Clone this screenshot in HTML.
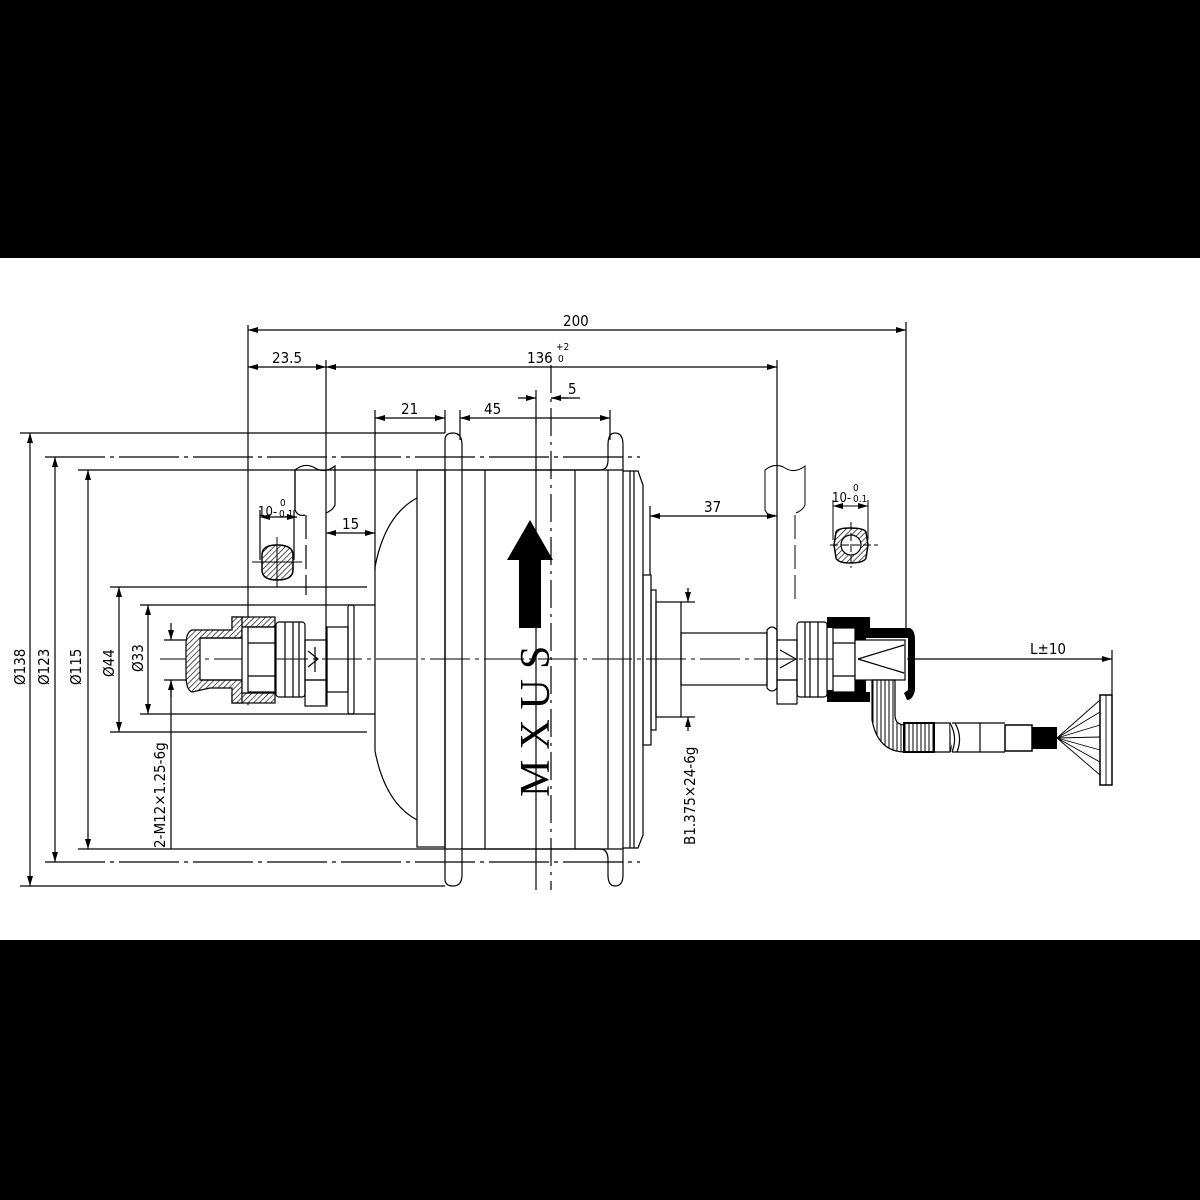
<!DOCTYPE html>
<html><head><meta charset="utf-8"><style>
html,body{margin:0;padding:0;background:#000;}
svg{display:block}
text{font-family:"DejaVu Sans Condensed","Liberation Sans",sans-serif;fill:#000}
</style></head><body>
<svg width="1200" height="1200" viewBox="0 0 1200 1200" xmlns="http://www.w3.org/2000/svg">
<defs>
<pattern id="h" width="4" height="4" patternUnits="userSpaceOnUse" patternTransform="rotate(45)">
<rect width="4" height="4" fill="#fff"/><line x1="0" y1="0" x2="0" y2="4" stroke="#000" stroke-width="1.3"/></pattern>
<pattern id="v" width="4" height="4" patternUnits="userSpaceOnUse">
<rect width="4" height="4" fill="#fff"/><line x1="1" y1="0" x2="1" y2="4" stroke="#000" stroke-width="1"/></pattern>
<marker id="a" viewBox="0 0 10 6" refX="10" refY="3" markerWidth="10" markerHeight="6" orient="auto-start-reverse" markerUnits="userSpaceOnUse"><path d="M0,0 L10,3 L0,6z" fill="#000"/></marker>
</defs>
<rect x="0" y="0" width="1200" height="258" fill="#000"/>
<rect x="0" y="258" width="1200" height="682" fill="#fff"/>
<rect x="0" y="940" width="1200" height="260" fill="#000"/>

<g stroke="#000" stroke-width="1.2" fill="none">
<line x1="248" y1="325" x2="248" y2="705"/>
<line x1="906" y1="322" x2="906" y2="632"/>
<line x1="248" y1="330" x2="906" y2="330" marker-start="url(#a)" marker-end="url(#a)"/>
<line x1="326" y1="360" x2="326" y2="705"/>
<line x1="777" y1="360" x2="777" y2="640"/>
<line x1="248" y1="367" x2="326" y2="367" marker-start="url(#a)" marker-end="url(#a)"/>
<line x1="326" y1="367" x2="777" y2="367" marker-start="url(#a)" marker-end="url(#a)"/>
<line x1="375" y1="410" x2="375" y2="570"/>
<line x1="375" y1="418" x2="445" y2="418" marker-start="url(#a)" marker-end="url(#a)"/>
<line x1="445" y1="410" x2="445" y2="433"/>
<line x1="460" y1="410" x2="460" y2="440"/>
<line x1="610" y1="410" x2="610" y2="440"/>
<line x1="460" y1="418" x2="610" y2="418" marker-start="url(#a)" marker-end="url(#a)"/>
<line x1="518" y1="398" x2="536" y2="398" marker-end="url(#a)"/>
<line x1="568" y1="398" x2="551" y2="398" marker-end="url(#a)"/>
<line x1="551" y1="398" x2="580" y2="398"/>
<line x1="536" y1="390" x2="536" y2="890"/>
<line x1="551" y1="365" x2="551" y2="890" stroke-dasharray="28,6,3,6"/>
<line x1="20" y1="433" x2="445" y2="433"/>
<line x1="45" y1="457" x2="640" y2="457" stroke-dasharray="60,5,4,5"/>
<line x1="78" y1="470" x2="445" y2="470"/>
<line x1="110" y1="587" x2="367" y2="587"/>
<line x1="140" y1="605" x2="375" y2="605"/>
<line x1="110" y1="732" x2="367" y2="732"/>
<line x1="140" y1="714" x2="375" y2="714"/>
<line x1="78" y1="849" x2="445" y2="849"/>
<line x1="45" y1="862" x2="640" y2="862" stroke-dasharray="60,5,4,5"/>
<line x1="20" y1="886" x2="445" y2="886"/>
<line x1="30" y1="433" x2="30" y2="886" marker-start="url(#a)" marker-end="url(#a)"/>
<line x1="55" y1="457" x2="55" y2="862" marker-start="url(#a)" marker-end="url(#a)"/>
<line x1="88" y1="470" x2="88" y2="849" marker-start="url(#a)" marker-end="url(#a)"/>
<line x1="119" y1="587" x2="119" y2="732" marker-start="url(#a)" marker-end="url(#a)"/>
<line x1="148" y1="605" x2="148" y2="714" marker-start="url(#a)" marker-end="url(#a)"/>
<line x1="171" y1="623" x2="171" y2="640" marker-end="url(#a)"/>
<line x1="171" y1="680" x2="171" y2="849"/>
<line x1="171" y1="698" x2="171" y2="680" marker-end="url(#a)"/>
<line x1="164" y1="640" x2="195" y2="640"/>
<line x1="164" y1="680" x2="195" y2="680"/>
<line x1="160" y1="659" x2="930" y2="659" stroke-dasharray="40,5,4,5" stroke-width="1"/>

<rect x="417" y="470" width="28" height="377"/>
<path d="M445,849 V440 Q445,433 453,433 Q462,433 462,445 V470 Q462,470 470,470 L600,470 Q608,470 608,460 V445 Q608,433 615,433 Q623,433 623,445 V470"/>
<path d="M445,470 V879 Q445,886 453,886 Q462,886 462,875 V849 L470,849 L600,849 Q608,849 608,860 V875 Q608,886 615,886 Q623,886 623,875 V849"/>
<line x1="462" y1="470" x2="462" y2="849"/>
<line x1="608" y1="470" x2="608" y2="849"/>
<line x1="485" y1="470" x2="485" y2="849"/>
<line x1="575" y1="470" x2="575" y2="849"/>
<line x1="623" y1="470" x2="623" y2="849"/>
<line x1="445" y1="470" x2="623" y2="470"/>
<line x1="445" y1="849" x2="623" y2="849"/>
<path d="M623,471 H638 L643,485 V835 L638,848 H623"/>
<line x1="630" y1="471" x2="630" y2="848"/>
<line x1="634" y1="471" x2="634" y2="848"/>
<rect x="643" y="575" width="8" height="170"/>
<rect x="651" y="590" width="5" height="140"/>
<rect x="656" y="602" width="25" height="115"/>
<line x1="681" y1="602" x2="695" y2="602"/>
<line x1="681" y1="717" x2="695" y2="717"/>
<line x1="688" y1="588" x2="688" y2="602" marker-end="url(#a)"/>
<line x1="688" y1="731" x2="688" y2="717" marker-end="url(#a)"/>
<rect x="681" y="633" width="86" height="52"/>
<path d="M375,567 Q385,515 417,498"/>
<path d="M375,751 Q385,803 417,820"/>
<line x1="375" y1="567" x2="375" y2="751"/>

<rect x="348" y="605" width="6" height="109" rx="2"/>
<rect x="327" y="627" width="21" height="65"/>
<rect x="305" y="640" width="22" height="40"/>
<path d="M308,651 L318,659 L308,667 M315,647 V672"/>
<rect x="305" y="680" width="22" height="26"/>
<rect x="276" y="622" width="29" height="75" rx="3"/>
<line x1="285" y1="622" x2="285" y2="697"/>
<line x1="293" y1="622" x2="293" y2="697"/>
<line x1="299" y1="622" x2="299" y2="697"/>
</g>
<!-- left cap hatched bands -->
<rect x="232" y="617" width="43" height="10" fill="url(#h)" stroke="#000" stroke-width="1.2"/>
<rect x="232" y="693" width="43" height="10" fill="url(#h)" stroke="#000" stroke-width="1.2"/>
<path d="M232,617 V630 H192 Q186,632 186,645 V675 Q186,690 192,692 L210,688 L232,688 V703 H242 V680 H200 V638 H242 V617 Z" fill="url(#h)" stroke="#000" stroke-width="1.2"/>
<g stroke="#000" stroke-width="1.2" fill="none">
<rect x="242" y="627" width="33" height="66" fill="#fff"/>
<rect x="248" y="627" width="27" height="65"/>
<line x1="248" y1="643" x2="275" y2="643"/><line x1="248" y1="676" x2="275" y2="676"/>
<line x1="200" y1="638" x2="242" y2="638"/><line x1="200" y1="680" x2="242" y2="680"/>

<path d="M295,510 V470 Q305,462 315,468 Q325,474 335,466 V505 Q333,510 326,513"/>
<path d="M295,470 V510 Q298,517 305,515"/>
<line x1="306" y1="515" x2="306" y2="595" stroke-dasharray="24,6"/>
<line x1="260" y1="517" x2="297" y2="517" marker-start="url(#a)" marker-end="url(#a)"/>
<line x1="260" y1="510" x2="260" y2="560"/><line x1="294" y1="510" x2="294" y2="560"/>
<line x1="326" y1="533" x2="375" y2="533" marker-start="url(#a)" marker-end="url(#a)"/>
<line x1="650" y1="506" x2="650" y2="575"/>
<line x1="650" y1="516" x2="777" y2="516" marker-start="url(#a)" marker-end="url(#a)"/>
</g>
<path d="M262,555 Q262,545 277,545 Q293,545 293,555 V570 Q293,580 277,580 Q262,580 262,570Z" fill="url(#h)" stroke="#000" stroke-width="1.5"/>
<g stroke="#000" stroke-width="1" fill="none">
<line x1="252" y1="562" x2="302" y2="562"/><line x1="277" y1="537" x2="277" y2="587"/>
<path d="M765,510 V470 Q775,462 785,468 Q795,474 805,466 V505 Q803,510 796,513"/>
<path d="M765,470 V510 Q768,517 775,515"/>
<line x1="795" y1="515" x2="795" y2="600" stroke-dasharray="24,6"/>
<line x1="833" y1="506" x2="868" y2="506" marker-start="url(#a)" marker-end="url(#a)"/>
<line x1="833" y1="500" x2="833" y2="540"/><line x1="868" y1="500" x2="868" y2="540"/>
</g>
<path d="M836,532 Q838,528 850,528 Q864,528 866,532 L868,545 L866,558 Q864,563 850,563 Q838,563 836,558 L834,545Z" fill="url(#h)" stroke="#000" stroke-width="1.5"/>
<circle cx="851" cy="545" r="10" fill="#fff" stroke="#000" stroke-width="1.2"/>
<g stroke="#000" stroke-width="1" fill="none">
<line x1="830" y1="545" x2="878" y2="545" stroke-dasharray="8,3"/><line x1="851" y1="522" x2="851" y2="568" stroke-dasharray="8,3"/>
</g>

<g stroke="#000" stroke-width="1.2" fill="none">
<path d="M767,630 Q772,624 777,630 V688 Q772,694 767,688 Z"/>
<rect x="777" y="640" width="20" height="40"/>
<path d="M780,650 L796,659 L780,668"/>
<rect x="777" y="680" width="20" height="24"/>
<rect x="797" y="622" width="30" height="75" rx="3"/>
<line x1="805" y1="622" x2="805" y2="697"/><line x1="810" y1="622" x2="810" y2="697"/><line x1="818" y1="622" x2="818" y2="697"/>
</g>
<path d="M827,617 H870 V628 H910 Q915,630 915,640 V690 Q913,700 907,700 L904,693 L908,690 V638 H866 V692 H870 V702 H827 V690 H833 V628 H827Z" fill="#000"/>
<g stroke="#000" stroke-width="1.2" fill="none">
<rect x="833" y="628" width="22" height="64" fill="#fff"/>
<line x1="833" y1="643" x2="855" y2="643"/><line x1="833" y1="676" x2="855" y2="676"/>
<rect x="855" y="640" width="50" height="40" fill="#fff"/>
<path d="M858,659 L904,645 M858,659 L904,673"/>
</g>
<path d="M872,680 H895 V715 Q895,725 905,725 V752 Q878,752 872,720Z" fill="url(#v)" stroke="#000" stroke-width="1.2"/>
<rect x="904" y="723" width="30" height="29" fill="url(#v)" stroke="#000" stroke-width="2"/>
<g stroke="#000" stroke-width="1.2" fill="none">
<path d="M934,723 H950 Q955,737 950,752 H934Z"/>
<path d="M950,723 V752 M952,723 H1005 M952,752 H1005"/>
<path d="M950,723 Q958,737 952,752" fill="#fff"/>
<path d="M955,723 Q963,737 957,752"/>
<line x1="980" y1="723" x2="980" y2="752"/>
</g>
<rect x="1005" y="725" width="27" height="26" fill="#fff" stroke="#000" stroke-width="1.5"/>
<rect x="1032" y="727" width="25" height="22" fill="#000"/>
<g stroke="#000" stroke-width="0.9" fill="none">
<line x1="1057" y1="738" x2="1100" y2="700"/><line x1="1057" y1="738" x2="1100" y2="712"/>
<line x1="1057" y1="738" x2="1100" y2="725"/><line x1="1057" y1="738" x2="1100" y2="737"/>
<line x1="1057" y1="738" x2="1100" y2="750"/><line x1="1057" y1="738" x2="1100" y2="762"/>
<line x1="1057" y1="738" x2="1100" y2="775"/>
<rect x="1100" y="695" width="12" height="90" stroke-width="1.5"/>
<line x1="1106" y1="695" x2="1106" y2="785"/>
<line x1="915" y1="659" x2="1112" y2="659" marker-end="url(#a)" stroke-width="1.2"/>
<line x1="1112" y1="650" x2="1112" y2="695" stroke-width="1.2"/>
</g>
<path d="M530,520 L553,560 L541,560 L541,628 L519,628 L519,560 L507,560Z" fill="#000"/>

<g font-size="15">
<text x="563" y="326">200</text>
<text x="272" y="363">23.5</text>
<text x="527" y="363">136</text>
<text x="556" y="350" font-size="10">+2</text>
<text x="558" y="362" font-size="10">0</text>
<text x="568" y="394">5</text>
<text x="401" y="414">21</text>
<text x="484" y="414">45</text>
<text x="342" y="529">15</text>
<text x="704" y="512">37</text>
<text x="258" y="516" font-size="13">10-</text>
<text x="280" y="506" font-size="10">0</text>
<text x="279" y="517" font-size="10">0.1</text>
<text x="832" y="502" font-size="13">10-</text>
<text x="853" y="491" font-size="10">0</text>
<text x="853" y="502" font-size="10">0.1</text>
<text x="1030" y="654">L±10</text>
<text transform="translate(25,685) rotate(-90)">Ø138</text>
<text transform="translate(49,685) rotate(-90)">Ø123</text>
<text transform="translate(81,685) rotate(-90)">Ø115</text>
<text transform="translate(114,677) rotate(-90)">Ø44</text>
<text transform="translate(143,672) rotate(-90)">Ø33</text>
<text transform="translate(165,848) rotate(-90)">2-M12×1.25-6g</text>
<text transform="translate(695,845) rotate(-90)">B1.375×24-6g</text>
</g>
<text transform="translate(549,797) rotate(-90)" font-size="42" letter-spacing="10" style="font-family:'Liberation Serif',serif">MXUS</text>
</svg>
</body></html>
